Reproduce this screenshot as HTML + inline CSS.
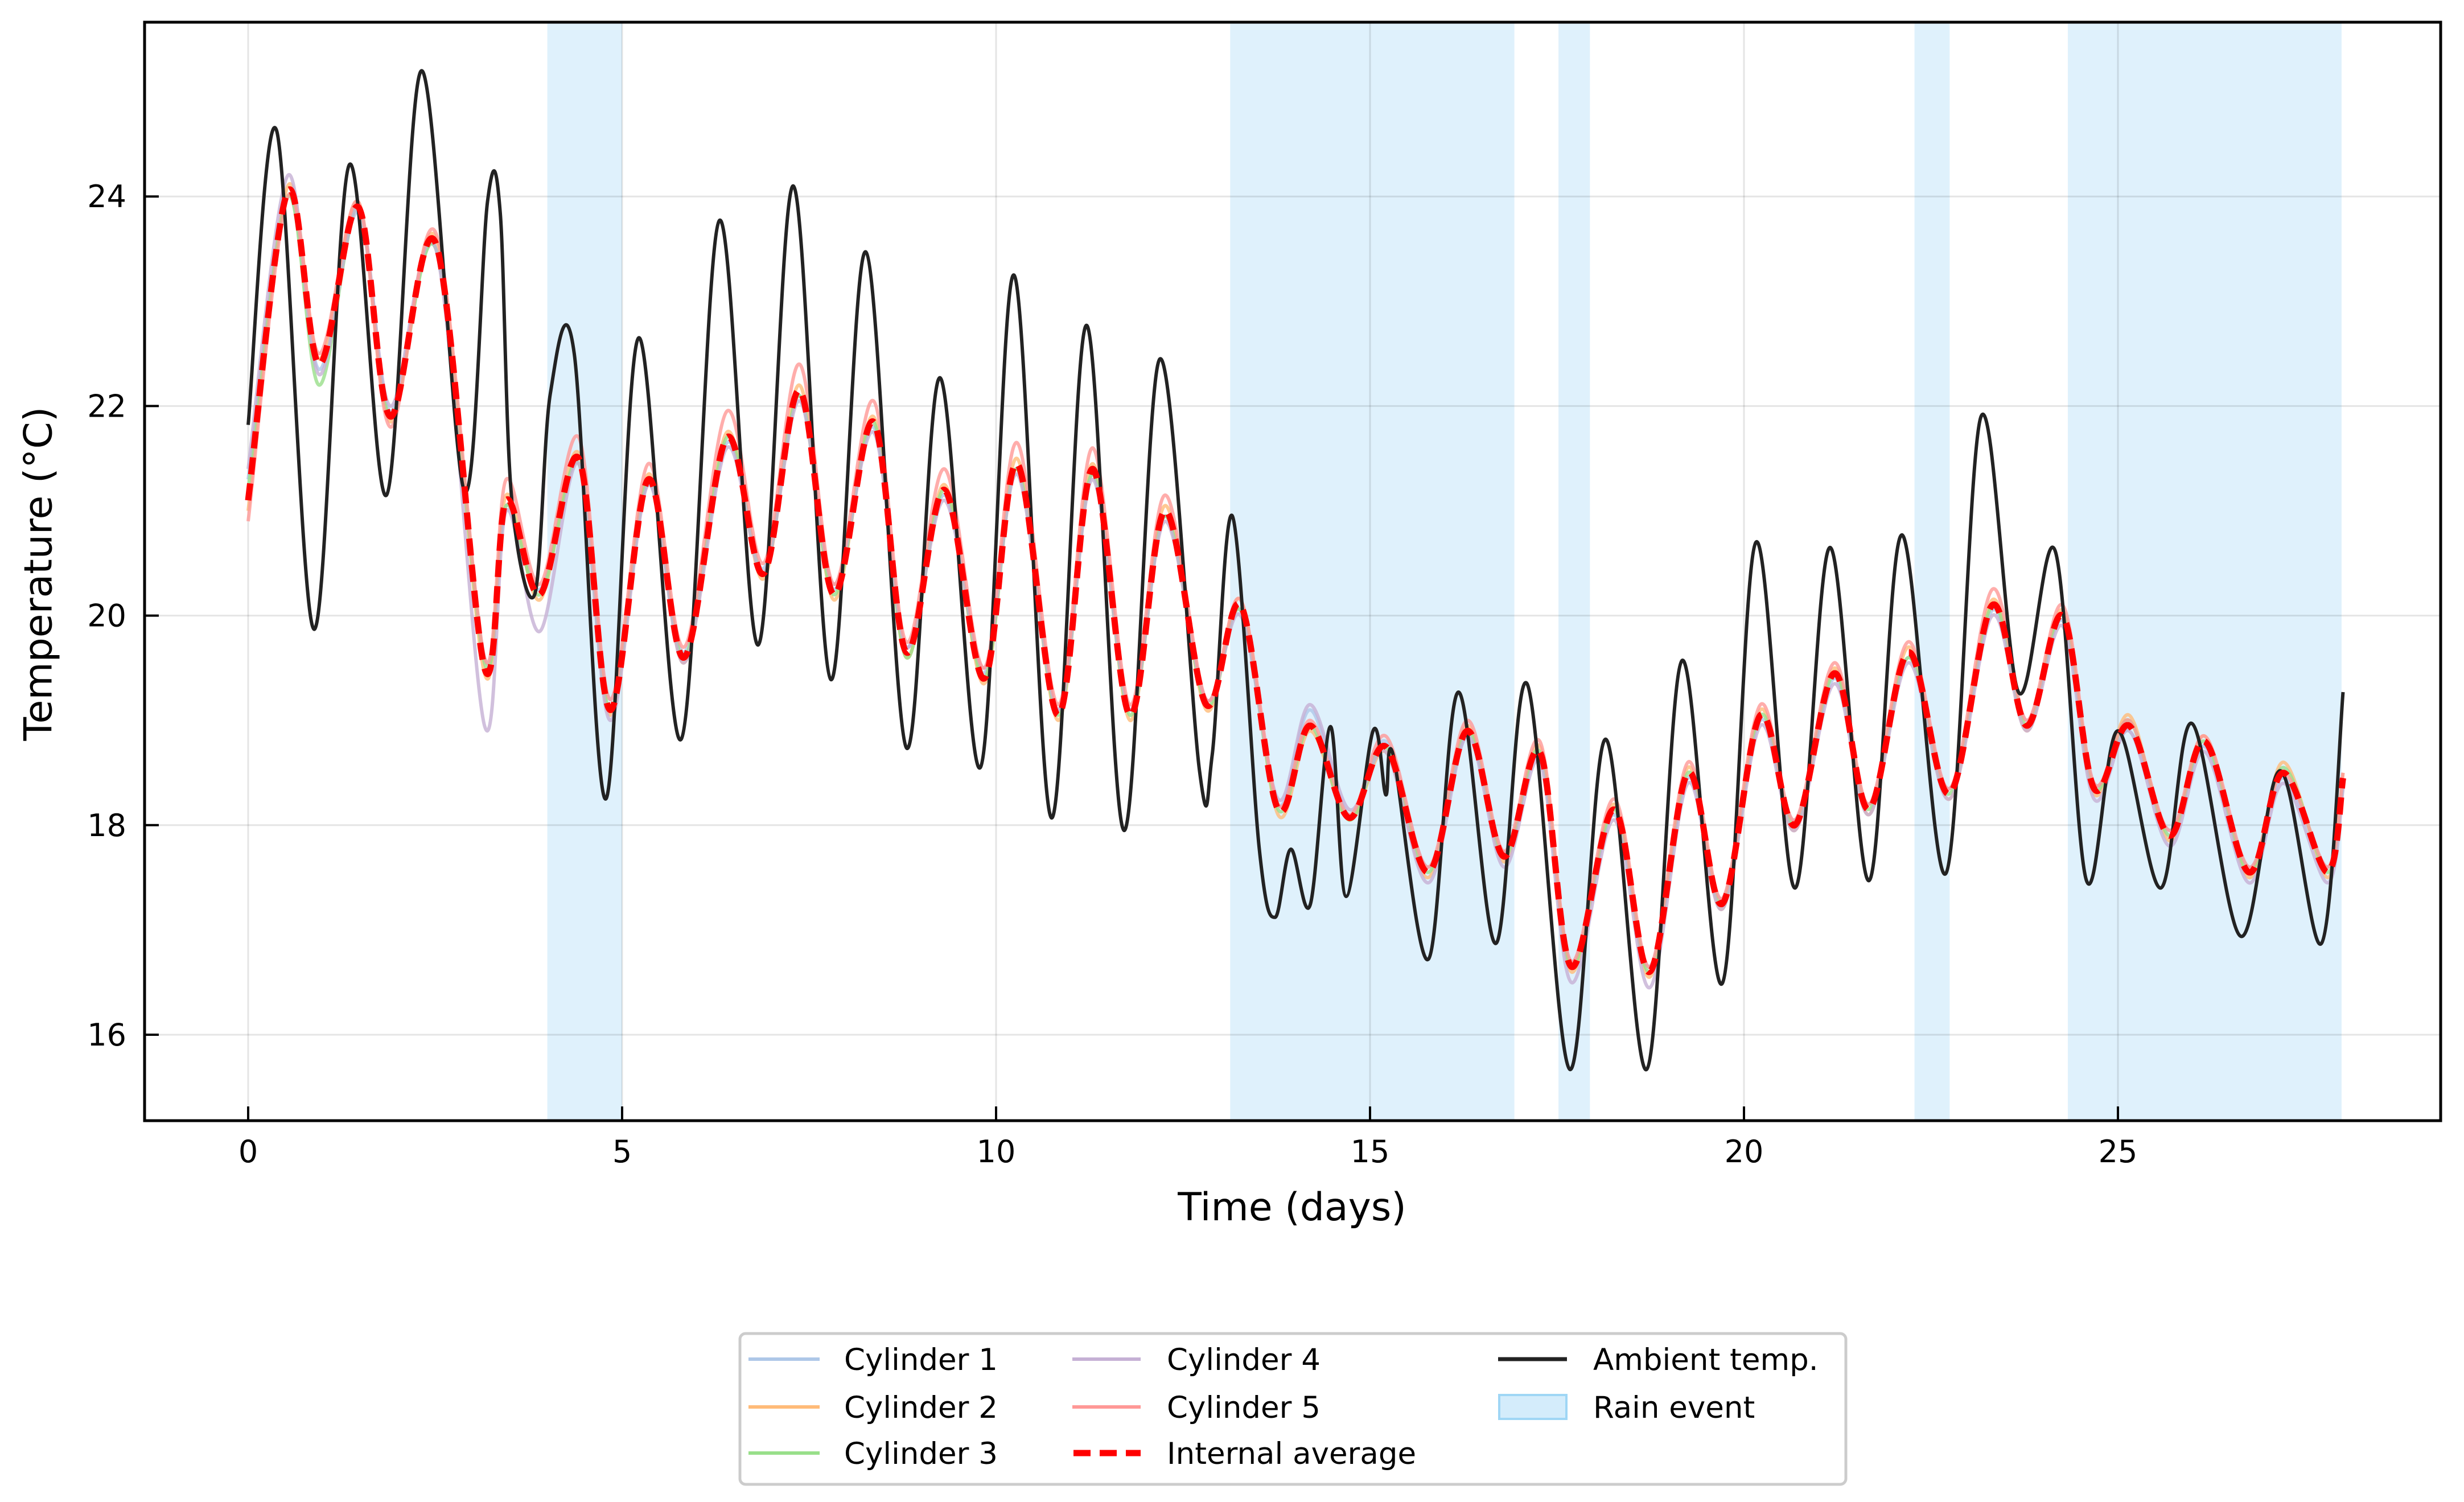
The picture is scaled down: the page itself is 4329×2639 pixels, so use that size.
<!DOCTYPE html>
<html><head><meta charset="utf-8"><style>
html,body{margin:0;padding:0;background:#fff;}
svg{display:block;font-family:"DejaVu Sans","Liberation Sans",sans-serif;}
</style></head><body>
<svg id="chart" width="4329" height="2639" viewBox="0 0 4329 2639" xmlns="http://www.w3.org/2000/svg">
<rect x="0" y="0" width="4329" height="2639" fill="#fff"/>
<g id="rain"></g>
<g id="grid"></g>
<g id="series"></g>
<rect x="254" y="39" width="4034" height="1930" fill="none" stroke="#000" stroke-width="5"/>
<g id="ticks"></g>
<text x="72" y="1008" font-size="68" text-anchor="middle" dominant-baseline="middle" transform="rotate(-90 72 1008)">Temperature (°C)</text>
<text x="2270" y="2144" font-size="68" text-anchor="middle">Time (days)</text>
<g>
<rect x="1300" y="2343" width="1943" height="265" rx="10" fill="#fff" stroke="#ccc" stroke-width="5"/>
<g font-size="53">
<line x1="1315" y1="2388" x2="1440" y2="2388" stroke="#aec7e8" stroke-width="6"/>
<text x="1483" y="2407">Cylinder 1</text>
<line x1="1315" y1="2472" x2="1440" y2="2472" stroke="#ffbb78" stroke-width="6"/>
<text x="1483" y="2491">Cylinder 2</text>
<line x1="1315" y1="2553" x2="1440" y2="2553" stroke="#98df8a" stroke-width="6"/>
<text x="1483" y="2572">Cylinder 3</text>
<line x1="1884" y1="2388" x2="2004" y2="2388" stroke="#c5b0d5" stroke-width="6"/>
<text x="2050" y="2407">Cylinder 4</text>
<line x1="1884" y1="2472" x2="2004" y2="2472" stroke="#ff9896" stroke-width="6"/>
<text x="2050" y="2491">Cylinder 5</text>
<line x1="1886" y1="2553" x2="2004" y2="2553" stroke="#f00" stroke-width="11" stroke-dasharray="30,16"/>
<text x="2050" y="2572">Internal average</text>
<line x1="2632" y1="2388" x2="2753" y2="2388" stroke="#222" stroke-width="7"/>
<text x="2799" y="2407">Ambient temp.</text>
<rect x="2634" y="2451" width="118" height="42" fill="#d4ecfb" stroke="#9fd6f5" stroke-width="4"/>
<text x="2799" y="2491">Rain event</text>
</g>
</g>
</svg>
<script>
const rainStart = [4.0, 13.13, 17.52, 22.28, 24.33];
const rainEnd = [5.0, 16.93, 17.94, 22.75, 27.99];
const xTicks = [0, 5, 10, 15, 20, 25];
const yTicks = [16, 18, 20, 22, 24];
const ambT = [0,0.38,0.88,1.35,1.85,2.32,2.89,3.20,3.37,3.52,3.83,4.04,4.36,4.78,5.22,5.79,6.30,6.82,7.29,7.79,8.26,8.80,9.25,9.79,10.24,10.74,11.21,11.71,12.19,12.72,12.89,13.16,13.52,13.73,13.94,14.20,14.47,14.68,15.04,15.21,15.31,15.78,16.18,16.68,17.10,17.67,18.15,18.70,19.17,19.71,20.16,20.68,21.15,21.67,22.11,22.70,23.17,23.67,24.16,24.58,25.0,25.57,25.99,26.64,27.17,27.72,28.01];
const ambV = [21.82,24.63,19.87,24.30,21.15,25.2,21.19,23.95,23.85,21.15,20.2,22.12,22.5,18.25,22.65,18.82,23.77,19.72,24.1,19.39,23.47,18.74,22.27,18.55,23.25,18.07,22.77,17.95,22.45,18.52,18.67,20.95,17.77,17.12,17.77,17.24,18.94,17.32,18.9,18.29,18.67,16.72,19.27,16.87,19.35,15.67,18.82,15.67,19.57,16.49,20.7,17.4,20.65,17.47,20.77,17.54,21.9,19.27,20.62,17.47,18.9,17.4,18.97,16.94,18.52,16.87,19.27];
const avgT = [0,0.53,0.95,1.47,1.90,2.51,3.16,3.45,3.90,4.42,4.84,5.35,5.83,6.40,6.89,7.37,7.83,8.36,8.80,9.31,9.84,10.28,10.83,11.29,11.79,12.26,12.81,13.27,13.77,14.20,14.72,15.21,15.78,16.30,16.79,17.27,17.69,18.26,18.74,19.25,19.71,20.22,20.68,21.21,21.67,22.20,22.75,23.32,23.78,24.26,24.68,25.15,25.69,26.16,26.75,27.21,27.80,28.01];
const avgV = [21.1,24.05,22.4,23.9,21.9,23.55,19.5,21.1,20.2,21.5,19.1,21.3,19.6,21.7,20.4,22.15,20.2,21.85,19.65,21.2,19.4,21.45,19.05,21.4,19.05,21.0,19.15,20.1,18.15,18.95,18.07,18.75,17.55,18.9,17.7,18.7,16.65,18.15,16.6,18.5,17.25,19.05,18.0,19.45,18.15,19.65,18.3,20.1,18.95,20.0,18.35,18.95,17.9,18.8,17.55,18.5,17.55,18.45];
const cyl1V = [21.3,24.0,22.35,23.85,21.95,23.5,19.6,21.05,20.25,21.45,19.2,21.25,19.65,21.65,20.45,22.1,20.25,21.8,19.7,21.15,19.45,21.4,19.1,21.35,19.1,20.95,19.2,20.05,18.2,19.1,18.1,18.8,17.6,18.85,17.75,18.65,16.7,18.1,16.65,18.45,17.3,19.0,18.05,19.4,18.2,19.6,18.35,20.05,19.0,19.95,18.4,18.9,17.95,18.75,17.6,18.45,17.6,18.4];
const cyl2V = [21.0,24.1,22.45,23.95,21.85,23.6,19.45,21.15,20.15,21.55,19.05,21.35,19.55,21.75,20.35,22.2,20.15,21.9,19.6,21.25,19.35,21.5,19.0,21.45,19.0,21.05,19.1,20.15,18.1,18.9,18.05,18.7,17.5,18.95,17.65,18.75,16.6,18.2,16.55,18.55,17.2,19.1,17.95,19.5,18.1,19.7,18.25,20.15,18.9,20.05,18.3,19.05,17.85,18.85,17.5,18.6,17.5,18.5];
const cyl3V = [21.2,24.0,22.2,23.9,21.9,23.5,19.55,21.05,20.2,21.45,19.1,21.3,19.6,21.7,20.4,22.1,20.2,21.85,19.6,21.2,19.4,21.4,19.05,21.35,19.05,20.95,19.15,20.05,18.15,18.95,18.05,18.75,17.55,18.9,17.7,18.7,16.65,18.15,16.6,18.5,17.25,19.05,18.0,19.45,18.15,19.6,18.3,20.1,18.95,20.0,18.35,19.0,17.9,18.8,17.55,18.55,17.55,18.45];
const cyl4V = [21.4,24.2,22.3,23.9,22.0,23.5,18.95,21.0,19.85,21.45,19.0,21.25,19.55,21.6,20.4,22.05,20.3,21.75,19.7,21.1,19.5,21.35,19.1,21.3,19.1,20.9,19.2,20.0,18.25,19.15,18.15,18.7,17.45,18.85,17.6,18.6,16.5,18.05,16.45,18.4,17.2,18.95,17.95,19.35,18.1,19.55,18.25,20.0,18.9,19.9,18.25,18.9,17.8,18.7,17.45,18.4,17.45,18.35];
const cyl5V = [20.9,24.0,22.5,23.95,21.8,23.65,19.6,21.3,20.3,21.7,19.2,21.45,19.7,21.95,20.5,22.4,20.3,22.05,19.75,21.4,19.5,21.65,19.15,21.6,19.15,21.15,19.2,20.15,18.2,19.0,18.1,18.85,17.6,19.0,17.75,18.8,16.7,18.25,16.65,18.6,17.3,19.15,18.05,19.55,18.2,19.75,18.35,20.25,19.0,20.1,18.4,19.0,17.95,18.85,17.6,18.5,17.6,18.5];

const NS = "http://www.w3.org/2000/svg";
function xs(d){ return 436 + d * 131.4; }
function ys(t){ return 1818 - (t - 16) * 184.1; }
function mk(tag, attrs, parent){ const e = document.createElementNS(NS, tag); for (const k in attrs) e.setAttribute(k, attrs[k]); parent.appendChild(e); return e; }
function smoothPath(T, V){
  const p = T.map((t,i)=>[xs(t), ys(V[i])]);
  let d = "M" + p[0][0].toFixed(1) + "," + p[0][1].toFixed(1);
  for (let i=0;i<p.length-1;i++){
    const p0 = p[Math.max(0,i-1)], p1 = p[i], p2 = p[i+1], p3 = p[Math.min(p.length-1,i+2)];
    const c1x = p1[0] + (p2[0]-p0[0])/6, c1y = p1[1] + (p2[1]-p0[1])/6;
    const c2x = p2[0] - (p3[0]-p1[0])/6, c2y = p2[1] - (p3[1]-p1[1])/6;
    d += " C" + c1x.toFixed(1)+","+c1y.toFixed(1)+" "+c2x.toFixed(1)+","+c2y.toFixed(1)+" "+p2[0].toFixed(1)+","+p2[1].toFixed(1);
  }
  return d;
}
const rainG = document.getElementById('rain');
for (let i=0;i<rainStart.length;i++){
  const r = mk('rect', {x: xs(rainStart[i]), y: 39, width: xs(rainEnd[i]) - xs(rainStart[i]), height: 1930, fill: '#dff1fc'}, rainG);
  
  
}
const gridG = document.getElementById('grid');
const tickG = document.getElementById('ticks');
xTicks.forEach(v=>{
  const g = mk('line', {x1: xs(v), y1: 39, x2: xs(v), y2: 1969, stroke: '#000', 'stroke-opacity': 0.1, 'stroke-width': 3}, gridG);
  
  
  const t = mk('line', {x1: xs(v), y1: 1969, x2: xs(v), y2: 1944, stroke: '#000', 'stroke-width': 4}, tickG);
  
  
  const l = mk('text', {x: xs(v), y: 2042, 'font-size': 54, 'text-anchor': 'middle'}, tickG);
  l.textContent = v;
  
  
});
yTicks.forEach(v=>{
  const g = mk('line', {x1: 254, y1: ys(v), x2: 4288, y2: ys(v), stroke: '#000', 'stroke-opacity': 0.1, 'stroke-width': 3}, gridG);
  
  
  const t = mk('line', {x1: 254, y1: ys(v), x2: 279, y2: ys(v), stroke: '#000', 'stroke-width': 4}, tickG);
  
  
  const l = mk('text', {x: 222, y: ys(v) + 19, 'font-size': 54, 'text-anchor': 'end'}, tickG);
  l.textContent = v;
  
  
});
const sG = document.getElementById('series');
const cyls = [[cyl1V,'#aec7e8','cylinder-1-line'],[cyl2V,'#ffbb78','cylinder-2-line'],[cyl3V,'#98df8a','cylinder-3-line'],[cyl4V,'#c5b0d5','cylinder-4-line'],[cyl5V,'#ff9896','cylinder-5-line']];
cyls.forEach(c=>{
  const p = mk('path', {d: smoothPath(avgT, c[0]), fill: 'none', stroke: c[1], 'stroke-width': 6, 'stroke-opacity': 0.8}, sG);
  
  
});
const amb = mk('path', {d: smoothPath(ambT, ambV), fill: 'none', stroke: '#222', 'stroke-width': 6, 'stroke-linejoin': 'round'}, sG);


const avg = mk('path', {d: smoothPath(avgT, avgV), fill: 'none', stroke: '#f00', 'stroke-width': 11, 'stroke-dasharray': '30,16'}, sG);


</script>
</body></html>
